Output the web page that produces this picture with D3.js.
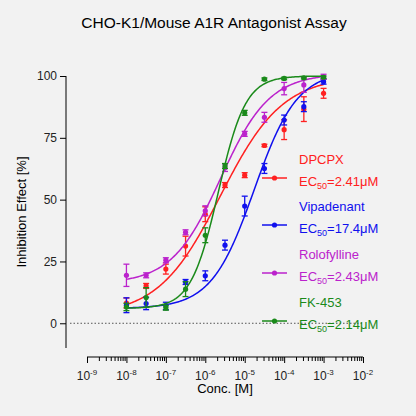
<!DOCTYPE html><html><head><meta charset="utf-8"><script src="https://cdn.jsdelivr.net/npm/d3@7"></script>
<style>body{margin:0;background:#f2f2f2}text{font-family:Arial,"Liberation Sans",sans-serif}</style></head><body><svg id="c" width="416" height="416"></svg><script>
const conc=[1e-8,3.16e-8,1e-7,3.16e-7,1e-6,3.16e-6,1e-5,3.16e-5,1e-4,3.16e-4,1e-3];
const names=["DPCPX","Vipadenant","Rolofylline","FK-453"];
const ec50Labels=["2.41μM","17.4μM","2.43μM","2.14μM"];
const colors=["#ff2020","#1010ee","#bb22cc","#1a8a1a"];
const dpcpx=[8.2,15.1,21.9,31.2,44.1,55.9,59.9,71.9,78.3,86.6,93];
const vipa=[7.3,8,7,16.7,19.2,31.6,47.4,62.6,82.2,87.6,97.7];
const rolo=[19.4,19.4,25.5,36.8,45.5,62.9,76.6,83.3,94.9,96.4,99.7];
const fk=[6.6,10.4,6.3,13.8,35.6,63.6,85.1,98.7,99,99.3,99.5];
const errDpcpx=[2,1,2,4,3,1,1,0.5,4,5,2];
const errVipa=[3,2.5,1.5,1,2,2,4,2,2,2,1];
const errRolo=[4.5,1,1,1,2,1.5,1,2,2.5,3,1];
const errFk=[1.5,4,1,3,3,1,1,0.5,0.5,0.5,0.5];
// fitted curve params: bottom, top, ec50, hill
const fits=[[3,100,2.41e-6,0.55],[6,102,17.4e-6,0.8],[16,101,2.43e-6,0.7],[6,100,2.14e-6,1.25]];
const series=[dpcpx,vipa,rolo,fk], errs=[errDpcpx,errVipa,errRolo,errFk];
const svg=d3.select("#c");
const x=d3.scaleLog().domain([1e-9,1e-2]).range([87,363]);
const y=d3.scaleLinear().domain([-10,100]).range([348,76]);
svg.append("text").attr("x",214).attr("y",28).attr("text-anchor","middle").attr("font-size",15.5).text("CHO-K1/Mouse A1R Antagonist Assay");
const ya=svg.append("g").attr("transform","translate(66,0)").call(d3.axisLeft(y).tickValues([0,25,50,75,100]).tickSize(6).tickSizeOuter(0));
ya.selectAll("text").attr("font-size",12).attr("fill","#222");
ya.select(".domain").attr("d","M0,76V348");
svg.append("text").attr("transform","translate(26,212) rotate(-90)").attr("text-anchor","middle").attr("font-size",13).text("Inhibition Effect [%]");
const xa=svg.append("g").attr("transform","translate(0,357)");
const minor=[];for(let e=-9;e<-2;e++)for(let m=2;m<10;m++)minor.push(m*Math.pow(10,e));
xa.append("g").call(d3.axisBottom(x).tickValues(minor).tickSize(4).tickFormat("").tickSizeOuter(0)).select(".domain").remove();
const xm=xa.append("g").call(d3.axisBottom(x).tickValues(d3.range(-9,-1).map(e=>Math.pow(10,e))).tickSize(6).tickSizeOuter(0).tickFormat(""));
xm.select(".domain").attr("d","M87,0H363");
d3.range(-9,-1).forEach(e=>{const t=xa.append("text").attr("x",x(Math.pow(10,e))).attr("y",23).attr("text-anchor","middle").attr("font-size",12).attr("fill","#222");t.append("tspan").text("10");t.append("tspan").attr("dy",-5).attr("font-size",8).text(e);});
svg.append("text").attr("x",225).attr("y",393).attr("text-anchor","middle").attr("font-size",13).text("Conc. [M]");
svg.append("line").attr("x1",70).attr("x2",362).attr("y1",y(0)).attr("y2",y(0)).attr("stroke","#555").attr("stroke-dasharray","1.5,2");
const xs=d3.range(0,201).map(i=>Math.pow(10,-8+5*i/200));
series.forEach((s,k)=>{const [b,t,ec,h]=fits[k],c=colors[k];
 svg.append("path").datum(xs).attr("fill","none").attr("stroke",c).attr("stroke-width",1.5).attr("d",d3.line().x(d=>x(d)).y(d=>y(b+(t-b)/(1+Math.pow(ec/d,h)))));
 const g=svg.append("g").attr("stroke",c).attr("fill",c);
 s.forEach((v,i)=>{const cx=x(conc[i]),e=errs[k][i];
  g.append("line").attr("x1",cx).attr("x2",cx).attr("y1",y(v-e)).attr("y2",y(v+e)).attr("stroke-width",1.3);
  g.append("line").attr("x1",cx-3).attr("x2",cx+3).attr("y1",y(v-e)).attr("y2",y(v-e)).attr("stroke-width",1.3);
  g.append("line").attr("x1",cx-3).attr("x2",cx+3).attr("y1",y(v+e)).attr("y2",y(v+e)).attr("stroke-width",1.3);
  g.append("circle").attr("cx",cx).attr("cy",y(v)).attr("r",2.6).attr("stroke","none");});
 const ly=[186,233,281,329][k];
 svg.append("line").attr("x1",262).attr("x2",287).attr("y1",ly-8).attr("y2",ly-8).attr("stroke",c).attr("stroke-width",1.5);
 svg.append("circle").attr("cx",274.5).attr("cy",ly-8).attr("r",2.6).attr("fill",c);
 svg.append("text").attr("x",299).attr("y",ly-22).attr("font-size",13).attr("fill",c).text(names[k]);
 const t2=svg.append("text").attr("x",299).attr("y",ly).attr("font-size",13).attr("fill",c);
 t2.append("tspan").text("EC");t2.append("tspan").attr("font-size",9).attr("dy",3).text("50");t2.append("tspan").attr("dy",-3).text("="+ec50Labels[k]);
});
</script></body></html>
